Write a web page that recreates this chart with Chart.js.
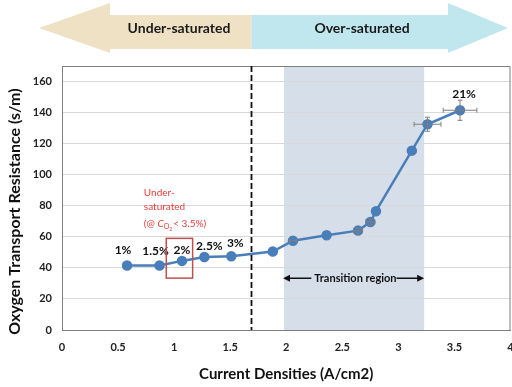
<!DOCTYPE html>
<html>
<head>
<meta charset="utf-8">
<script src="https://cdn.jsdelivr.net/npm/chart.js@4"></script>
<style>
  html, body { margin: 0; padding: 0; background: #fff; overflow: hidden; }
  #wrap { width: 517px; height: 387px; position: relative; }
</style>
</head>
<body>
<div id="wrap"><canvas id="chart"></canvas></div>
<script>
// ---------- Data ----------
const densities  = [0.58, 0.87, 1.07, 1.27, 1.51, 1.88, 2.06, 2.36, 2.64, 2.75, 2.80, 3.12, 3.26, 3.55];
const resistance = [41.5, 41.5, 44.5, 47, 47.5, 50.5, 57.5, 61, 64, 69.5, 76.5, 115.5, 132.5, 141.5];
const xErr = [0, 0, 0, 0, 0, 0, 0.03, 0, 0.04, 0.04, 0, 0, 0.12, 0.15];
const yErr = [0, 0, 0, 0, 0, 0, 0, 0, 1.5, 2, 0, 0, 4.5, 6.5];
const o2Labels = ["1%", "1.5%", "2%", "2.5%", "3%", "", "", "", "", "", "", "", "", "21%"];
const yTicks = [0, 20, 40, 60, 80, 100, 120, 140, 160];

const dividerX = 1.69;            // under/over saturated boundary
const transitionRange = [1.98, 3.23];

// label nudges in px (dx, dy) from the point
const LABEL_OFFSETS = [[-4, -15], [-4, -14], [0, -11], [5, -11], [4, -13], [0,0], [0,0], [0,0], [0,0], [0,0], [0,0], [0,0], [0,0], [4, -16]];

const FONT = "Lato, 'Open Sans', sans-serif";
const BLUE = "#4a7ebb";

// ---------- Plugins ----------
const backdrop = {
  id: "backdrop",
  beforeDraw(chart) {
    const { ctx, chartArea: a, scales: { x } } = chart;
    ctx.save();
    ctx.fillStyle = "#d6dfe9";
    const x0 = x.getPixelForValue(transitionRange[0]);
    const x1 = x.getPixelForValue(transitionRange[1]);
    ctx.fillRect(x0, a.top, x1 - x0, a.bottom - a.top);
    ctx.restore();

    // top banner with two arrows
    ctx.save();
    const mid = x.getPixelForValue(dividerX);
    const top = 3, bot = 53, sTop = 15, sBot = 49, cy = 28;
    ctx.fillStyle = "#efe1c4";
    ctx.beginPath();
    ctx.moveTo(mid, sTop);
    ctx.lineTo(110, sTop);
    ctx.lineTo(110, top);
    ctx.lineTo(39, cy);
    ctx.lineTo(110, bot);
    ctx.lineTo(110, sBot);
    ctx.lineTo(mid, sBot);
    ctx.closePath();
    ctx.fill();
    ctx.fillStyle = "#c0e6ee";
    ctx.beginPath();
    ctx.moveTo(mid, sTop);
    ctx.lineTo(448, sTop);
    ctx.lineTo(448, top);
    ctx.lineTo(508, cy);
    ctx.lineTo(448, bot);
    ctx.lineTo(448, sBot);
    ctx.lineTo(mid, sBot);
    ctx.closePath();
    ctx.fill();
    ctx.fillStyle = "#1a1a1a";
    ctx.font = "bold 14px " + FONT;
    ctx.textAlign = "center";
    ctx.textBaseline = "middle";
    ctx.fillText("Under-saturated", 179, cy);
    ctx.fillText("Over-saturated", 362, cy);
    ctx.restore();
  },
  afterDraw(chart) {
    const { ctx, chartArea: a, scales: { x, y } } = chart;
    ctx.save();
    // frame top / right
    ctx.strokeStyle = "#7f7f7f";
    ctx.lineWidth = 1;
    ctx.beginPath();
    ctx.moveTo(a.left, a.top + 0.5);
    ctx.lineTo(a.right - 0.5, a.top + 0.5);
    ctx.lineTo(a.right - 0.5, a.bottom);
    ctx.stroke();

    // dashed divider
    const dx = x.getPixelForValue(dividerX);
    ctx.strokeStyle = "#111";
    ctx.lineWidth = 1.8;
    ctx.setLineDash([6, 3]);
    ctx.beginPath();
    ctx.moveTo(dx, a.top);
    ctx.lineTo(dx, a.bottom);
    ctx.stroke();
    ctx.setLineDash([]);

    // red box around 2%
    ctx.strokeStyle = "#c0504d";
    ctx.lineWidth = 1.5;
    const bx0 = x.getPixelForValue(0.93), bx1 = x.getPixelForValue(1.165);
    const by0 = y.getPixelForValue(59), by1 = y.getPixelForValue(33.4);
    ctx.strokeRect(bx0, by0, bx1 - bx0, by1 - by0);

    // red note
    ctx.fillStyle = "#e8403a";
    ctx.font = "10px " + FONT;
    ctx.textAlign = "left";
    ctx.textBaseline = "middle";
    const tx = x.getPixelForValue(0.73);
    ctx.fillText("Under-", tx, y.getPixelForValue(88.2));
    ctx.fillText("saturated", tx, y.getPixelForValue(79.2));
    let ny = y.getPixelForValue(68.1);
    let cx = tx;
    ctx.fillText("(@ ", cx, ny); cx += ctx.measureText("(@ ").width;
    ctx.font = "italic 10px " + FONT;
    ctx.fillText("C", cx, ny); cx += ctx.measureText("C").width;
    ctx.font = "7px " + FONT;
    ctx.fillText("O", cx, ny + 3); cx += ctx.measureText("O").width;
    ctx.font = "5px " + FONT;
    ctx.fillText("2", cx, ny + 5); cx += ctx.measureText("2").width + 1;
    ctx.font = "10px " + FONT;
    ctx.fillText("< 3.5%)", cx, ny);

    // transition region arrow
    const ty = y.getPixelForValue(33.4);
    const t0 = x.getPixelForValue(transitionRange[0]) - 1;
    const t1 = x.getPixelForValue(transitionRange[1]);
    ctx.font = "bold 11px " + FONT;
    ctx.fillStyle = "#111";
    ctx.textAlign = "center";
    const tc = x.getPixelForValue(2.617);
    const tw = ctx.measureText("Transition region").width;
    ctx.fillText("Transition region", tc, ty);
    ctx.strokeStyle = "#111";
    ctx.lineWidth = 1.5;
    ctx.beginPath();
    ctx.moveTo(t0 + 4, ty); ctx.lineTo(tc - tw / 2 - 3, ty);
    ctx.moveTo(tc + tw / 2, ty); ctx.lineTo(t1 - 4, ty);
    ctx.stroke();
    ctx.beginPath();
    ctx.moveTo(t0, ty); ctx.lineTo(t0 + 7, ty - 3.5); ctx.lineTo(t0 + 7, ty + 3.5); ctx.closePath();
    ctx.moveTo(t1, ty); ctx.lineTo(t1 - 7, ty - 3.5); ctx.lineTo(t1 - 7, ty + 3.5); ctx.closePath();
    ctx.fill();
    ctx.restore();
  }
};

const errorBars = {
  id: "errorBars",
  afterDatasetsDraw(chart) {
    const { ctx, scales: { x, y } } = chart;
    ctx.save();
    ctx.strokeStyle = "#7f7f7f";
    ctx.lineWidth = 1;
    densities.forEach((d, i) => {
      const px = x.getPixelForValue(d), py = y.getPixelForValue(resistance[i]);
      ctx.beginPath();
      if (xErr[i]) {
        const l = x.getPixelForValue(d - xErr[i]), r = x.getPixelForValue(d + xErr[i]);
        ctx.moveTo(l, py); ctx.lineTo(r, py);
        ctx.moveTo(l, py - 2.5); ctx.lineTo(l, py + 2.5);
        ctx.moveTo(r, py - 2.5); ctx.lineTo(r, py + 2.5);
      }
      if (yErr[i]) {
        const t = y.getPixelForValue(resistance[i] + yErr[i]), b = y.getPixelForValue(resistance[i] - yErr[i]);
        ctx.moveTo(px, t); ctx.lineTo(px, b);
        ctx.moveTo(px - 2.5, t); ctx.lineTo(px + 2.5, t);
        ctx.moveTo(px - 2.5, b); ctx.lineTo(px + 2.5, b);
      }
      ctx.stroke();
    });

    // O2 concentration labels
    ctx.fillStyle = "#111";
    ctx.font = "bold 12px " + FONT;
    ctx.textAlign = "center";
    ctx.textBaseline = "middle";
    o2Labels.forEach((t, i) => {
      if (!t) return;
      const [ox, oy] = LABEL_OFFSETS[i];
      ctx.fillText(t, x.getPixelForValue(densities[i]) + ox, y.getPixelForValue(resistance[i]) + oy);
    });
    ctx.restore();
  }
};

// ---------- Chart ----------
new Chart(document.getElementById("chart"), {
  type: "line",
  data: {
    datasets: [{
      data: densities.map((d, i) => ({ x: d, y: resistance[i] })),
      borderColor: BLUE,
      backgroundColor: BLUE,
      borderWidth: 2.5,
      pointRadius: 4,
      tension: 0
    }]
  },
  options: {
    responsive: true,
    maintainAspectRatio: false,
    animation: false,
    layout: { padding: { top: 66, left: 0, right: 0, bottom: 0 } },
    plugins: { legend: { display: false }, tooltip: { enabled: false } },
    scales: {
      x: {
        type: "linear",
        min: 0, max: 4,
        grid: { display: false, drawTicks: true, tickLength: 11 },
        border: { color: "#7f7f7f" },
        ticks: {
          stepSize: 0.5, padding: 0, color: "#222",
          font: { family: FONT, size: 11, weight: "bold" },
          callback: v => String(v)
        },
        title: {
          display: true, text: "Current Densities (A/cm2)", color: "#111",
          font: { family: FONT, size: 15, weight: "bold" }, padding: { top: 0, bottom: 4 }
        },
        afterFit(s) { s.height = 57; }
      },
      y: {
        min: 0, max: 170,
        afterBuildTicks(s) { s.ticks = yTicks.map(v => ({ value: v })); },
        grid: { color: "#d9d9d9", drawTicks: false },
        border: { color: "#7f7f7f" },
        ticks: { padding: 10, color: "#222", font: { family: FONT, size: 11, weight: "bold" } },
        title: {
          display: true, text: "Oxygen Transport Resistance (s/m)\u00a0\u00a0\u00a0\u00a0\u00a0\u00a0\u00a0", color: "#111",
          font: { family: FONT, size: 16, weight: "bold" }, padding: { top: 5, bottom: 0 }
        },
        afterFit(s) { s.width = 62; }
      }
    }
  },
  plugins: [backdrop, errorBars]
});
</script>
</body>
</html>
